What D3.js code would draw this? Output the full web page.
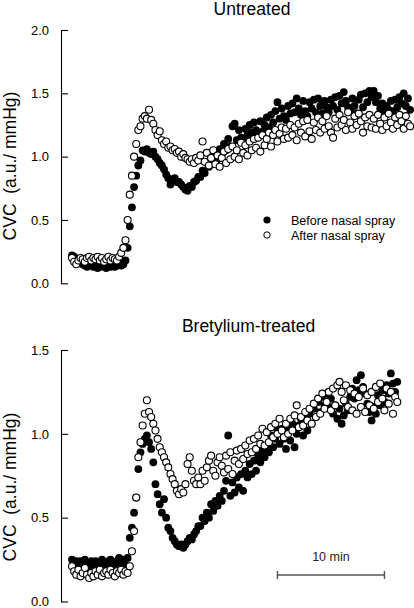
<!DOCTYPE html>
<html>
<head>
<meta charset="utf-8">
<script src="https://cdn.jsdelivr.net/npm/d3@7"></script>
<style>
  html, body { margin: 0; padding: 0; background: #fff; }
  svg { display: block; font-family: "Liberation Sans", Arial, sans-serif; }
</style>
</head>
<body>
<svg id="chart" width="414" height="608"></svg>
<script>
// ---- Data (CVC, a.u./mmHg), one sample every 0.2 min ----
const sampleMinutes = 0.2;

const untreatedBefore = [
  0.22,0.21,0.19,0.17,0.16,0.15,0.14,0.13,0.15,0.14,
  0.13,0.14,0.12,0.13,0.15,0.13,0.12,0.14,0.13,0.15,
  0.13,0.14,0.16,0.14,0.15,0.18,0.28,0.45,0.60,0.76,
  0.85,0.93,0.97,1.05,1.04,1.06,1.03,1.02,1.04,1.00,
  0.98,0.95,0.93,0.90,0.86,0.83,0.78,0.82,0.83,0.80,
  0.80,0.78,0.76,0.74,0.73,0.77,0.76,0.80,0.81,0.84,
  0.84,0.89,0.87,0.95,0.92,0.99,0.96,1.03,0.98,1.06,
  1.02,1.10,1.05,1.14,1.08,1.24,1.26,1.13,1.21,1.15,
  1.12,1.22,1.17,1.25,1.19,1.27,1.21,1.17,1.28,1.20,
  1.25,1.31,1.23,1.33,1.27,1.36,1.43,1.30,1.38,1.32,
  1.29,1.40,1.34,1.42,1.35,1.46,1.38,1.33,1.44,1.36,
  1.32,1.43,1.38,1.45,1.35,1.46,1.40,1.34,1.44,1.39,
  1.35,1.45,1.40,1.47,1.37,1.48,1.42,1.51,1.44,1.39,
  1.36,1.46,1.40,1.34,1.45,1.49,1.39,1.50,1.43,1.52,
  1.47,1.52,1.43,1.48,1.38,1.42,1.35,1.40,1.37,1.44,
  1.36,1.45,1.39,1.47,1.42,1.50,1.40,1.46,1.37
];
const untreatedAfter = [
  0.20,0.17,0.15,0.18,0.20,0.19,0.17,0.20,0.21,0.18,
  0.20,0.19,0.21,0.18,0.20,0.17,0.19,0.21,0.18,0.20,
  0.19,0.18,0.21,0.24,0.28,0.34,0.50,0.70,0.85,1.00,
  1.10,1.21,1.24,1.30,1.32,1.30,1.37,1.29,1.26,1.21,
  1.17,1.20,1.13,1.10,1.12,1.07,1.08,1.05,1.06,1.03,
  1.04,1.00,1.02,0.99,0.98,0.96,0.98,0.95,0.99,0.97,
  1.01,1.12,0.96,1.03,0.93,0.99,1.05,0.94,1.01,0.92,
  0.99,1.04,0.95,1.06,0.98,1.08,1.00,1.05,0.98,1.11,
  1.03,1.09,1.01,1.12,1.05,1.14,1.07,1.15,1.04,1.17,
  1.09,1.14,1.19,1.08,1.17,1.21,1.12,1.18,1.23,1.14,
  1.22,1.15,1.25,1.17,1.23,1.13,1.26,1.19,1.28,1.16,
  1.29,1.20,1.14,1.27,1.21,1.31,1.19,1.28,1.22,1.32,
  1.24,1.19,1.15,1.30,1.23,1.33,1.25,1.29,1.21,1.35,
  1.27,1.22,1.32,1.25,1.34,1.28,1.19,1.31,1.24,1.33,
  1.23,1.30,1.22,1.33,1.26,1.21,1.31,1.24,1.34,1.27,
  1.22,1.31,1.25,1.33,1.28,1.22,1.32,1.26,1.24
];
const bretyliumBefore = [
  0.25,0.23,0.24,0.21,0.24,0.22,0.25,0.23,0.21,0.24,
  0.22,0.24,0.23,0.21,0.25,0.23,0.22,0.24,0.25,0.23,
  0.22,0.24,0.26,0.23,0.25,0.22,0.26,0.38,0.44,0.53,
  0.62,0.79,0.89,0.94,0.97,0.99,0.95,0.91,0.83,0.70,
  0.64,0.58,0.53,0.61,0.50,0.44,0.42,0.38,0.36,0.34,
  0.33,0.34,0.32,0.34,0.36,0.38,0.37,0.40,0.42,0.45,
  0.45,0.50,0.48,0.53,0.50,0.58,0.54,0.60,0.57,0.63,
  0.60,0.66,0.72,0.99,0.63,0.71,0.65,0.74,0.68,0.76,
  0.66,0.78,0.74,0.82,0.76,0.84,0.78,0.87,0.83,0.90,
  0.86,0.93,0.89,0.99,0.92,0.97,1.02,0.94,1.03,0.97,
  0.91,1.04,0.96,1.06,0.92,1.00,1.05,1.09,0.99,1.10,
  1.02,1.12,1.06,1.15,1.10,1.19,1.13,1.22,1.17,1.24,
  1.16,1.21,1.12,1.17,1.09,1.15,1.06,1.11,1.18,1.14,
  1.22,1.27,1.21,1.32,1.26,1.35,1.28,1.24,1.18,1.13,
  1.08,1.16,1.12,1.23,1.17,1.26,1.19,1.29,1.24,1.36,
  1.30,1.25,1.31
];
const bretyliumAfter = [
  0.21,0.18,0.16,0.19,0.15,0.17,0.20,0.16,0.14,0.17,
  0.15,0.18,0.16,0.19,0.15,0.17,0.18,0.16,0.19,0.17,
  0.15,0.18,0.17,0.19,0.16,0.18,0.17,0.21,0.30,0.42,
  0.62,0.86,0.95,1.05,1.12,1.20,1.13,1.10,1.06,1.02,
  0.97,0.92,0.89,0.86,0.83,0.80,0.76,0.73,0.70,0.66,
  0.64,0.67,0.65,0.70,0.82,0.86,0.78,0.72,0.70,0.74,
  0.70,0.78,0.72,0.80,0.84,0.87,0.78,0.75,0.83,0.86,
  0.81,0.77,0.87,0.79,0.89,0.76,0.84,0.90,0.82,0.91,
  0.85,0.93,0.88,0.96,0.89,0.97,0.91,0.99,0.94,1.03,
  0.93,1.01,0.95,1.04,0.98,1.06,1.00,1.09,1.02,0.98,
  1.06,1.00,1.09,1.02,1.11,1.17,1.04,1.10,1.05,1.13,
  1.08,1.15,1.06,1.18,1.10,1.21,1.12,1.24,1.15,1.19,
  1.25,1.14,1.27,1.17,1.29,1.31,1.25,1.20,1.29,1.16,
  1.26,1.14,1.24,1.12,1.22,1.16,1.27,1.13,1.23,1.17,
  1.25,1.15,1.28,1.19,1.30,1.21,1.14,1.27,1.18,1.25,
  1.12,1.22,1.19
];

const panelTitles = ["Untreated", "Bretylium-treated"];
const legendLabels = ["Before nasal spray", "After nasal spray"];
const yLabel = "CVC  (a.u./ mmHg)";
const topTicks = [0, 0.5, 1.0, 1.5, 2.0];
const bottomTicks = [0, 0.5, 1.0, 1.5];
const scaleBarMinutes = [19.2, 29.2];
const scaleBarLabel = "10 min";

// ---- Layout ----
const svg = d3.select("#chart");
const axisX = 61;
const x = d3.scaleLinear().domain([0, 32]).range([72, 72 + 32 * 10.7]);

const panels = [
  { title: panelTitles[0], before: untreatedBefore, after: untreatedAfter,
    y: d3.scaleLinear().domain([0, 2]).range([283.3, 30]), ticks: topTicks,
    titleY: 15, titleX: 252, labelY: 166 },
  { title: panelTitles[1], before: bretyliumBefore, after: bretyliumAfter,
    y: d3.scaleLinear().domain([0, 1.5]).range([601.5, 350]), ticks: bottomTicks,
    titleY: 332, titleX: 248.5, labelY: 487 }
];

const R = 3.9;

panels.forEach(p => {
  const g = svg.append("g");

  const axis = d3.axisLeft(p.y)
    .tickValues(p.ticks)
    .tickFormat(d3.format(".1f"))
    .tickSizeInner(-7)
    .tickSizeOuter(0)
    .tickPadding(12);
  const ax = g.append("g").attr("transform", `translate(${axisX},0)`).call(axis);
  ax.select(".domain").attr("stroke", "#000").attr("stroke-width", 1.1);
  ax.selectAll(".tick line").attr("stroke", "#000").attr("stroke-width", 1.1);
  ax.selectAll(".tick text")
    .attr("font-family", "Liberation Sans, Arial, sans-serif")
    .attr("font-size", 13).attr("fill", "#000");

  g.append("text")
    .attr("transform", `translate(16,${p.labelY}) rotate(-90)`)
    .attr("text-anchor", "middle")
    .attr("font-size", 17.5)
    .attr("fill", "#000")
    .style("white-space", "pre")
    .text(yLabel);

  g.append("text")
    .attr("x", p.titleX).attr("y", p.titleY)
    .attr("text-anchor", "middle")
    .attr("font-size", 17.5)
    .attr("fill", "#000")
    .text(p.title);

  g.append("g").selectAll("circle")
    .data(p.before)
    .join("circle")
    .attr("cx", (d, i) => x(i * sampleMinutes))
    .attr("cy", d => p.y(d))
    .attr("r", R)
    .attr("fill", "#000");

  g.append("g").selectAll("circle")
    .data(p.after)
    .join("circle")
    .attr("cx", (d, i) => x(i * sampleMinutes))
    .attr("cy", d => p.y(d))
    .attr("r", R - 0.4)
    .attr("fill", "#fff")
    .attr("stroke", "#000")
    .attr("stroke-width", 1.1);
});

// legend
const lg = svg.append("g");
lg.append("circle").attr("cx", 267).attr("cy", 220).attr("r", R - 0.3).attr("fill", "#000");
lg.append("circle").attr("cx", 267).attr("cy", 235).attr("r", R - 0.7)
  .attr("fill", "#fff").attr("stroke", "#000").attr("stroke-width", 1);
legendLabels.forEach((t, i) => {
  lg.append("text").attr("x", 291).attr("y", 225 + i * 15)
    .attr("font-size", 12.5).attr("fill", "#000").text(t);
});

// scale bar
const sb = svg.append("g").attr("stroke", "#555").attr("stroke-width", 1.4);
const sbY = 575;
const x0 = x(scaleBarMinutes[0]), x1 = x(scaleBarMinutes[1]);
sb.append("line").attr("x1", x0).attr("x2", x1).attr("y1", sbY).attr("y2", sbY);
sb.append("line").attr("x1", x0).attr("x2", x0).attr("y1", sbY - 4).attr("y2", sbY + 4);
sb.append("line").attr("x1", x1).attr("x2", x1).attr("y1", sbY - 4).attr("y2", sbY + 4);
svg.append("text")
  .attr("x", (x0 + x1) / 2).attr("y", 561)
  .attr("text-anchor", "middle")
  .attr("font-size", 12.5).attr("fill", "#222")
  .text(scaleBarLabel);
</script>
</body>
</html>
